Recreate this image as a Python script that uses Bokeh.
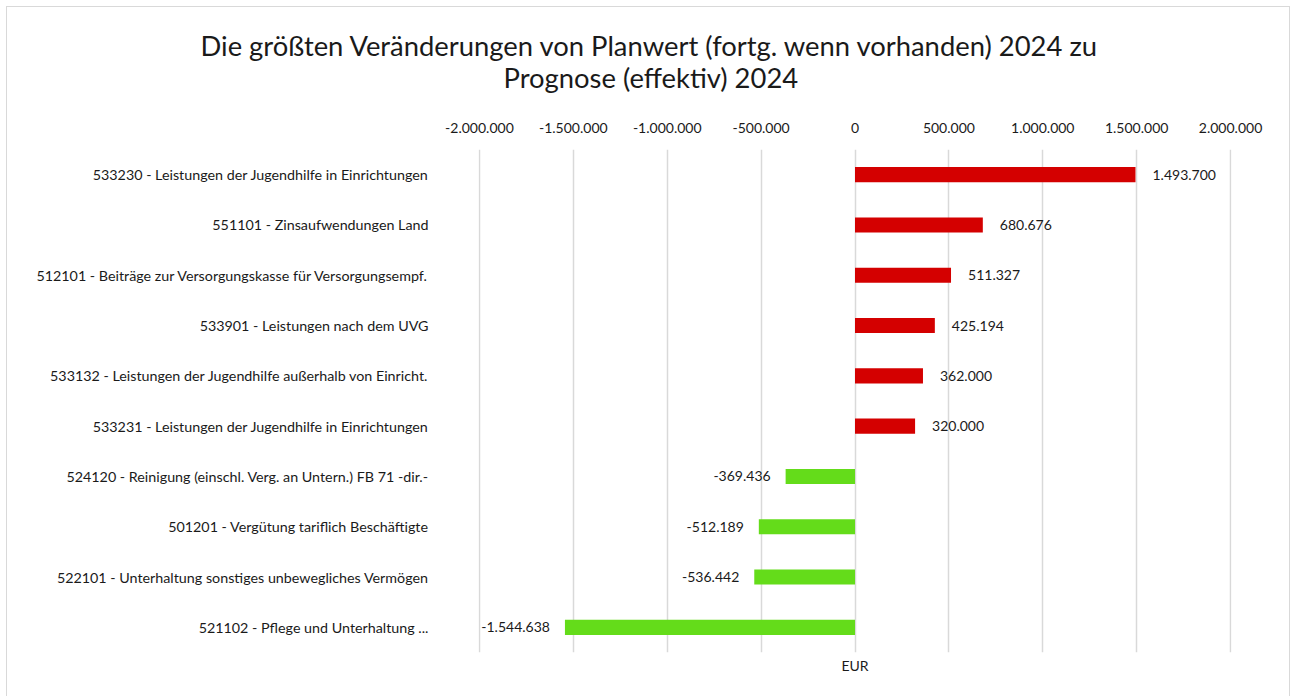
from bokeh.plotting import figure
from bokeh.models import FactorRange, Range1d, LinearAxis, FixedTicker, Title, ColumnDataSource
from bokeh.core.properties import value
from bokeh.embed import file_html
from bokeh.resources import INLINE

categories = [
    "533230 - Leistungen der Jugendhilfe in Einrichtungen",
    "551101 - Zinsaufwendungen Land",
    "512101 - Beiträge zur Versorgungskasse für Versorgungsempf.",
    "533901 - Leistungen nach dem UVG",
    "533132 - Leistungen der Jugendhilfe außerhalb von Einricht.",
    "533231 - Leistungen der Jugendhilfe in Einrichtungen",
    "524120 - Reinigung (einschl. Verg. an Untern.) FB 71 -dir.-",
    "501201 - Vergütung tariflich Beschäftigte",
    "522101 - Unterhaltung sonstiges unbewegliches Vermögen",
    "521102 - Pflege und Unterhaltung ...",
]
values = [1493700, 680676, 511327, 425194, 362000, 320000, -369436, -512189, -536442, -1544638]
ticks = [-2000000, -1500000, -1000000, -500000, 0, 500000, 1000000, 1500000, 2000000]
title_lines = ["Die größten Veränderungen von Planwert (fortg. wenn vorhanden) 2024 zu", "Prognose (effektiv) 2024"]
axis_title = "EUR"

RED = "#d40000"
GREEN = "#64dc1a"
FONT = "Lato"
TXT = "#1a1a1a"


def de(v):
    return f"{v:,}".replace(",", ".")


colors = [RED if v >= 0 else GREEN for v in values]
labels = [de(v) for v in values]
pos = [v >= 0 for v in values]

src_pos = ColumnDataSource(dict(y=[c for c, p_ in zip(categories, pos) if p_],
                                x=[v for v, p_ in zip(values, pos) if p_],
                                t=[l for l, p_ in zip(labels, pos) if p_]))
src_neg = ColumnDataSource(dict(y=[c for c, p_ in zip(categories, pos) if not p_],
                                x=[v for v, p_ in zip(values, pos) if not p_],
                                t=[l for l, p_ in zip(labels, pos) if not p_]))
src = ColumnDataSource(dict(y=categories, right=values, color=colors))

p = figure(width=1284, height=690, output_backend="svg", toolbar_location=None,
           y_range=FactorRange(factors=list(reversed(categories))),
           x_range=Range1d(-2005000, 2005000),
           x_axis_location="above", title=None,
           min_border_left=471, min_border_right=60, min_border_top=142, min_border_bottom=45)
p.styles = {"margin-left": "6px", "margin-top": "6px",
            "border-top": "1px solid #d9d9d9", "border-left": "1px solid #d9d9d9",
            "border-right": "1px solid #d9d9d9", "box-sizing": "border-box"}
p.outline_line_color = None
p.background_fill_color = "white"
p.border_fill_color = "white"

p.hbar(y="y", left=0, right="right", height=0.3, color="color", line_color=None, source=src)

p.text(x="x", y="y", text="t", source=src_pos, x_offset=17, text_align="left", text_baseline="middle",
       text_font=value(FONT), text_font_size="14px", text_color=TXT)
p.text(x="x", y="y", text="t", source=src_neg, x_offset=-15, text_align="right", text_baseline="middle",
       text_font=value(FONT), text_font_size="14px", text_color=TXT)

# grid
p.ygrid.grid_line_color = None
p.xgrid.ticker = FixedTicker(ticks=ticks)
p.xgrid.grid_line_color = "#d9d9d9"
p.xgrid.grid_line_width = 1.5

# top axis
xa = p.xaxis[0]
xa.ticker = FixedTicker(ticks=ticks)
xa.major_label_overrides = {t: de(t) for t in ticks}
xa.axis_line_color = None
xa.major_tick_line_color = None
xa.minor_tick_line_color = None
xa.major_tick_out = 0
xa.major_label_standoff = 17
xa.major_label_text_font = FONT
xa.major_label_text_font_size = "14px"
xa.major_label_text_color = TXT
# blank axis label only used as spacing between the axis and the title
xa.axis_label = " "
xa.axis_label_standoff = 7
xa.axis_label_text_font_size = "14px"

# left axis
ya = p.yaxis[0]
ya.axis_line_color = None
ya.major_tick_line_color = None
ya.major_tick_out = 0
ya.major_label_standoff = 50
ya.major_label_text_font = FONT
ya.major_label_text_font_size = "14.3px"
ya.major_label_text_color = TXT

# bottom axis title
ba = LinearAxis(ticker=FixedTicker(ticks=[]), axis_label=axis_title)
ba.axis_line_color = None
ba.major_tick_line_color = None
ba.minor_tick_line_color = None
ba.major_tick_out = 0
ba.axis_label_standoff = 4
ba.axis_label_text_font = FONT
ba.axis_label_text_font_size = "14px"
ba.axis_label_text_font_style = "normal"
ba.axis_label_text_color = TXT
p.add_layout(ba, "below")

# two-line title, centred over the whole chart (frame starts at x=478 on the page)
title_offsets = [-278, 25]
title_standoffs = [-6, 0]
for line, off, so in reversed(list(zip(title_lines, title_offsets, title_standoffs))):
    p.add_layout(Title(text=line, align="left", offset=off, standoff=so, text_font=FONT,
                       text_font_size="27.4px", text_font_style="normal", text_color=TXT), "above")

open("out.html", "w").write(file_html(p, INLINE))
